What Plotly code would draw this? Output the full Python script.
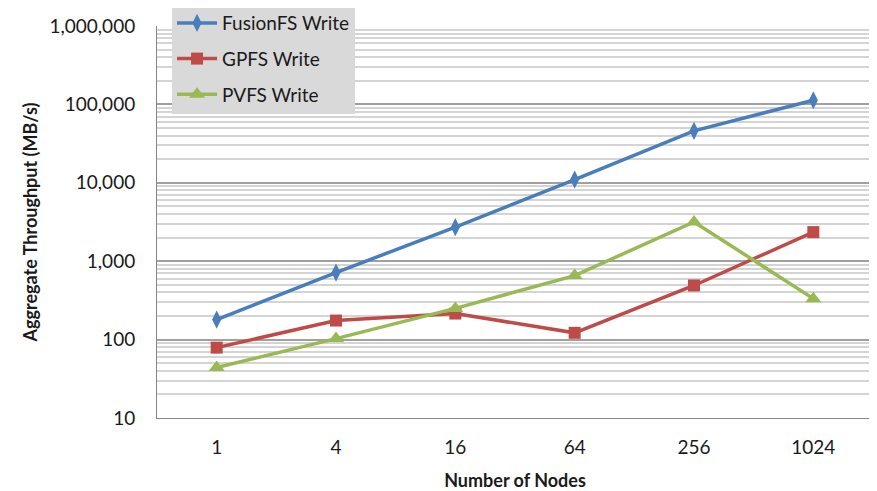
import plotly.graph_objects as go

# number of nodes on the x axis (categories)
nodes = ['1', '4', '16', '64', '256', '1024']

# write throughput in MB/s
fusionfs = [180, 717, 2720, 11000, 46000, 113000]
gpfs = [79, 175, 215, 122, 490, 2350]
pvfs = [44, 103, 250, 655, 3170, 333]

y_ticks = [10, 100, 1000, 10000, 100000, 1000000]
y_labels = ['10', '100', '1,000', '10,000', '100,000', '1,000,000']

series = [
    ('FusionFS Write', fusionfs, '#4A7EBB', 'diamond-tall', 13),
    ('GPFS Write', gpfs, '#BE4B48', 'square', 12),
    ('PVFS Write', pvfs, '#98B954', 'triangle-up', 14),
]

fig = go.Figure()
for name, vals, colour, sym, size in series:
    fig.add_trace(go.Scatter(
        x=nodes, y=vals, name=name, legendgroup=name,
        mode='lines+markers',
        line=dict(color=colour, width=3.5),
        marker=dict(symbol=sym, size=size, color=colour),
    ))

# the page body has an 8px margin, so the figure is a bit smaller than the window
fig.update_layout(
    width=869, height=483,
    margin=dict(l=149, r=4, t=18, b=73, autoexpand=False),
    plot_bgcolor='white', paper_bgcolor='white',
    font=dict(family='Lato', size=19, color='#1a1a1a'),
    showlegend=True,
    legend=dict(
        x=0.021, y=1.056, xanchor='left', yanchor='top',
        bgcolor='#D9D9D9', font=dict(size=19),
        tracegroupgap=8, itemwidth=40,
    ),
)

fig.update_xaxes(
    type='category', range=[-0.5, 5.5],
    showgrid=False, showline=True, linecolor='#868686', linewidth=1,
    ticks='', ticklabelstandoff=12, automargin=False,
    title=dict(text='<b>Number of Nodes</b>', font=dict(size=18), standoff=21),
)

fig.update_yaxes(
    type='log', range=[1, 6],
    tickvals=y_ticks, ticktext=y_labels,
    showgrid=True, gridcolor='#A0A0A0', gridwidth=1.5,
    showline=True, linecolor='#868686', linewidth=1,
    ticks='', ticklabelstandoff=17, automargin=False,
    minor=dict(dtick='D1', showgrid=True, gridcolor='#D4D4D4', gridwidth=1.5),
    title=dict(text='<b>Aggregate Throughput (MB/s)</b>', font=dict(size=18), standoff=7),
    zeroline=False,
)

fig.write_html('out.html')
